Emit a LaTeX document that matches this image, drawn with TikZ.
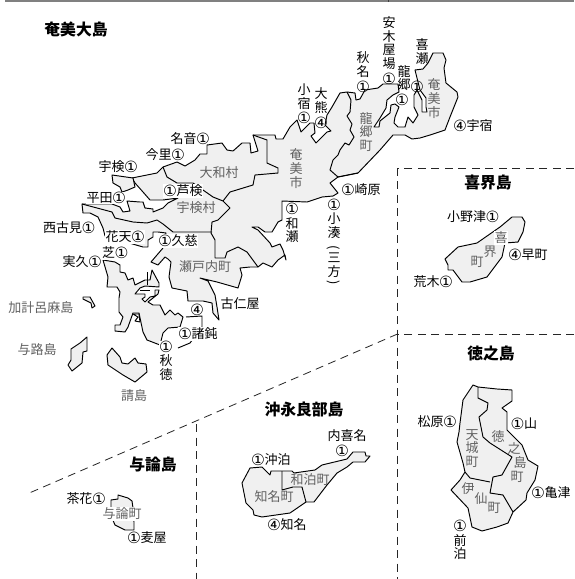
\documentclass[tikz,border=0pt]{standalone}
\usepackage{fontspec}
\newfontfamily\jp{Noto Sans CJK JP}
\newfontfamily\circfont{DejaVu Sans}
\newcommand{\circled}[1]{\makebox[13pt]{\rule[-1.5pt]{0pt}{11pt}\raisebox{-1.2pt}{\smash{\circfont\fontsize{15.5}{13.6}\selectfont #1}}}}
\newcommand{\one}{\circled{①}}
\newcommand{\four}{\circled{④}}
\definecolor{landgray}{gray}{0.94}
\tikzset{
  land/.style={draw=black,line width=0.95pt,fill=landgray,line join=round},
  bound/.style={draw=black,line width=0.95pt,line join=round},
  zone/.style={draw=black!85,line width=0.8pt,dash pattern=on 8pt off 5.5pt},
  lab/.style={text=black,inner sep=0pt,align=center,font=\jp\fontsize{13}{13.6}\selectfont},
  labw/.style={lab,fill=white,inner sep=0.6pt},
  town/.style={lab,text=black!62},
  townw/.style={town,fill=white,inner sep=0.6pt},
  title/.style={lab,font=\jp\bfseries\fontsize{15.8}{16}\selectfont},
}
\begin{document}
\begin{tikzpicture}[x=1pt,y=-1pt]
\useasboundingbox (0,0) rectangle (574,579);
\fill[white] (0,0) rectangle (574,579);
\fill[black!50] (5,0) rectangle (574,2.2);
\fill[black!75] (387.5,0) rectangle (388.8,2.2);
% zone dividers
\coordinate (zA) at (574,168.5);
\coordinate (zB) at (397.5,168.5);
\coordinate (zC) at (397.5,334);
\coordinate (zD) at (574,334);
\coordinate (zE) at (397.5,579);
\coordinate (zF) at (27,494);
\coordinate (zG) at (196,424);
\coordinate (zH) at (196,579);
\draw[zone] (zA) -- (zB) -- (zC);
\draw[zone] (zD) -- (zC);
\draw[zone] (zC) -- (zE);
\draw[zone] (zC) -- (zF);
\draw[zone] (zG) -- (zH);
% Amami main
\draw[land] (82,204) -- (112,204) -- (120,207) -- (123,212) -- (130,211) -- (127,201) -- (140,202) -- (143,202) -- (145,208) -- (153,209) -- (153,212) -- (163,208) -- (168,203) -- (178,198) -- (163,200) -- (150,200) -- (143,192) -- (135,183) -- (132,178) -- (157,173) -- (163,167) -- (177,162) -- (185,166) -- (195,160) -- (200,154) -- (207,154) -- (207,145) -- (222,143) -- (227,150) -- (233,151) -- (242,143) -- (250,143) -- (251,153) -- (258,151) -- (253,135) -- (275,135) -- (276,139) -- (283,139) -- (290,127) -- (297,120) -- (301,132) -- (310,123) -- (314,123) -- (315,133) -- (311,136) -- (316,143) -- (327,132) -- (331,131) -- (325,125) -- (327,115) -- (332,107) -- (340,93) -- (347,92) -- (355,93) -- (356,100) -- (360,99) -- (365,90) -- (378,88) -- (383,84) -- (398,84) -- (399,92) -- (393,95) -- (387,100) -- (386,108) -- (380,118) -- (374,127) -- (379,127) -- (380,121) -- (390,113) -- (391,105) -- (395,104) -- (399,107) -- (395,117) -- (394,123) -- (398,127) -- (405,127) -- (408,117) -- (413,123) -- (418,115) -- (414,107) -- (414,95) -- (417,90) -- (422,100) -- (422,112) -- (427,112) -- (426,107) -- (426,98) -- (420,90) -- (415,70) -- (423,69) -- (428,63) -- (433,53) -- (443,53) -- (446,60) -- (444,68) -- (446,83) -- (457,92) -- (458,97) -- (450,117) -- (445,130) -- (430,135) -- (420,138) -- (412,139) -- (405,135) -- (393,135) -- (380,150) -- (358,173) -- (338,177) -- (330,183) -- (338,193) -- (333,196) -- (322,197) -- (307,202) -- (282,201) -- (282,220) -- (278,222) -- (272,232) -- (265,232) -- (258,227) -- (252,227) -- (258,230) -- (270,243) -- (272,247) -- (280,244) -- (283,250) -- (286,260) -- (285,255) -- (278,260) -- (272,267) -- (263,263) -- (258,267) -- (250,267) -- (240,268) -- (242,275) -- (238,288) -- (217,282) -- (200,278) -- (208,281) -- (215,295) -- (217,307) -- (219,320) -- (213,313) -- (212,303) -- (203,301) -- (188,301) -- (187,291) -- (172,288) -- (169,277) -- (171,262) -- (168,259) -- (165,257) -- (158,265) -- (151,262) -- (163,248) -- (166,233) -- (158,232) -- (153,232) -- (153,237) -- (148,240) -- (148,247) -- (143,247) -- (105,236) -- (103,228) -- (98,217) -- (90,213) -- (83,213) -- cycle;
% north-west islet
\draw[land] (112,175) -- (113,183) -- (120,187) -- (122,192) -- (128,190) -- (135,187) -- (133,178) -- cycle;
% Kakeroma
\draw[land] (103,260) -- (108,277) -- (107,287) -- (117,287) -- (120,292) -- (119,298) -- (119,312) -- (123,317) -- (120,325) -- (115,325) -- (115,331) -- (125,332) -- (128,327) -- (133,313) -- (139,313) -- (143,332) -- (147,340) -- (160,345) -- (163,333) -- (168,328) -- (180,327) -- (183,317) -- (178,313) -- (175,315) -- (170,310) -- (165,315) -- (160,305) -- (153,305) -- (148,302) -- (158,294) -- (159,290) -- (155,290) -- (155,296) -- (150,297) -- (145,302) -- (142,299) -- (145,297) -- (145,294) -- (135,294) -- (140,288) -- (145,286) -- (159,287) -- (159,283) -- (152,270) -- (150,280) -- (145,280) -- (135,285) -- (133,278) -- (128,280) -- (125,273) -- (120,272) -- (120,265) -- (115,262) -- cycle;
\draw[land,fill=white] (133,314) -- (139,314) -- (140,322) -- (135,321) -- (138,317) -- cycle;
\draw[bound] (147,272) -- (147,285) (140,290) -- (150,290);
\draw[bound] (186,317) -- (202,316) -- (202,327) -- (190,343) -- (178,348);
\draw[land] (83,297) -- (90,297) -- (95,306) -- (92,308) -- (91,303) -- (83,299) -- cycle;
\draw[land] (87,337) -- (87,351) -- (83,352) -- (82,363) -- (72,371) -- (68,365) -- (71,360) -- (71,349) -- (80,343) -- cycle;
\draw[land] (112,348) -- (120,357) -- (122,363) -- (128,364) -- (135,358) -- (138,363) -- (146,364) -- (147,372) -- (135,382) -- (123,375) -- (108,365) -- (107,355) -- cycle;
% inner boundaries of Amami
\draw[bound] (82,204) -- (112,212) -- (115,218) -- (133,222) -- (147,223) -- (157,220) -- (163,224) -- (173,232) -- (212,232);
\draw[bound] (163,167) -- (167,177) -- (177,183) -- (193,183) -- (203,190) -- (213,197) -- (223,201) -- (230,208) -- (218,220) -- (212,222) -- (211,233) -- (215,240) -- (215,258) -- (225,258) -- (227,252) -- (238,247) -- (247,252) -- (258,267);
\draw[bound] (223,201) -- (230,192) -- (253,185) -- (255,175) -- (278,173) -- (278,168) -- (267,163) -- (267,140) -- (253,135);
\draw[bound] (347,92) -- (351,100) -- (350,112) -- (347,116) -- (352,124) -- (350,130) -- (354,137) -- (349,145) -- (345,143) -- (340,150) -- (338,155) -- (333,160) -- (330,170) -- (338,177) -- (358,173);
% Kikai
\draw[land] (445,259) -- (458,247) -- (477,243) -- (500,227) -- (512,217) -- (522,217) -- (525,222) -- (523,232) -- (518,242) -- (505,243) -- (502,257) -- (487,277) -- (470,282) -- (462,282) -- (453,270) -- (448,270) -- (448,265) -- cycle;
% Tokunoshima
\draw[land] (473,385) -- (478,387) -- (497,389) -- (512,390) -- (512,401) -- (502,408) -- (507,412) -- (507,430) -- (515,438) -- (522,445) -- (528,460) -- (538,466) -- (535,480) -- (527,493) -- (526,500) -- (513,512) -- (508,523) -- (497,527) -- (482,531) -- (472,527) -- (468,508) -- (451,490) -- (460,480) -- (465,472) -- (463,463) -- (457,442) -- (459,432) -- (460,423) -- (463,400) -- cycle;
\draw[bound] (478,387) -- (478,398) -- (488,403) -- (487,410) -- (479,417) -- (483,437) -- (490,443) -- (512,457) -- (502,475) -- (493,477) -- (490,493) -- (503,495) -- (513,512);
\draw[bound] (465,472) -- (470,478) -- (490,482);
% Okinoerabu
\draw[land] (250,468) -- (262,467) -- (270,475) -- (271,471) -- (292,471) -- (294,473) -- (315,470) -- (322,465) -- (347,459) -- (353,452) -- (365,452) -- (366,456) -- (370,456) -- (365,462) -- (353,462) -- (347,467) -- (337,473) -- (327,485) -- (314,502) -- (306,502) -- (290,513) -- (262,517) -- (254,515) -- (253,510) -- (246,503) -- (242,483) -- cycle;
\draw[bound] (282,471) -- (282,490) -- (293,487) -- (302,487) -- (306,502);
% Yoron
\draw[land] (118,495) -- (128,498) -- (132,501) -- (133,508) -- (134,522) -- (134,530) -- (125,530) -- (115,525) -- (112,518) -- (111,507) -- (111,500) -- (118,499) -- cycle;
% titles
\node[title] (t1) at (76,29) {奄美大島};
\node[title] (t2) at (488,183) {喜界島};
\node[title] (t3) at (491,353) {徳之島};
\node[title] (t4) at (304,409) {沖永良部島};
\node[title] (t5) at (153,464) {与論島};
% town names
\node[town] (m1) at (219,173) {大和村};
\node[town] (m2) at (196,208) {宇検村};
\node[town] (m3) at (205,267) {瀬戸内町};
\node[town] (m4) at (296,168.5) {奄\\美\\市};
\node[town] (m5) at (366,132) {龍\\郷\\町};
\node[town] (m6) at (434,98.5) {奄\\美\\市};
\node[townw] (m7a) at (501,238) {喜};
\node[town] (m7b) at (490,252) {界};
\node[town] (m7c) at (477,262) {町};
\node[town] (m8) at (472,448.5) {天\\城\\町};
\node[town] (m9a) at (498,437) {徳};
\node[town] (m9b) at (514,449) {之};
\node[town] (m9c) at (520,463) {島};
\node[town] (m9d) at (517,477) {町};
\node[town] (m10a) at (468,489) {伊};
\node[town] (m10b) at (481,499) {仙};
\node[town] (m10c) at (494,508) {町};
\node[town] (m11) at (274,497) {知名町};
\node[town] (m12) at (310,480) {和泊町};
\node[townw] (m13) at (122,514) {与論町};
% island names in gray
\node[town] (i1) at (41,308) {加計呂麻島};
\node[town] (i2) at (37,350) {与路島};
\node[town] (i3) at (134,396) {請島};
% ports
\node[lab] (p1) at (190,139) {名音\one};
\node[lab] (p2) at (165,155) {今里\one};
\node[lab] (p3) at (118,167) {宇検\one};
\node[labw] (p4) at (183,191) {\one 芦検};
\node[labw] (p5) at (106,198) {平田\one};
\node[lab] (p6) at (69,228) {西古見\one};
\node[labw] (p7) at (125,237) {花天\one};
\node[labw] (p8) at (178,241) {\one 久慈};
\node[labw] (p9) at (115,253) {芝\one};
\node[lab] (p10) at (82,262) {実久\one};
\node[lab] (p11) at (240,304) {古仁屋};
\node[lab] (p12) at (197,310) {\four};
\node[labw] (p13) at (198,334) {\one 諸鈍};
\node[lab,fill=white,inner sep=0.3pt] (p14) at (166,361) {\one\\[1pt]秋\\徳};
\node[lab] (p15) at (304,104) {小\\宿\\[1pt]\one};
\node[lab] (p16) at (321,108) {大\\熊\\[1pt]\four};
\node[lab] (p17) at (363,72) {秋\\名\\[1pt]\one};
\node[lab] (p18) at (389,50.5) {安\\木\\屋\\場\\[1pt]\one};
\node[lab] (p19) at (404,78) {龍\\郷};
\node[lab] (p20) at (417,87) {\one};
\node[lab] (p21) at (402,100) {\one};
\node[lab] (p22) at (422,51.5) {喜\\瀬};
\node[lab] (p23) at (473,126) {\four 宇宿};
\node[lab] (p24) at (361,190) {\one 崎原};
\node[lab] (p25) at (292,223.5) {\one\\[1pt]和\\瀬};
\node[lab] (p26) at (334,219) {\one\\[1pt]小\\湊};
\node[lab,rotate=-90] (p27a) at (334,248) {(};
\node[lab] (p27) at (334,265.5) {三\\方};
\node[lab,rotate=-90] (p27b) at (334,283) {)};
\node[lab] (k1) at (473,217) {小野津\one};
\node[lab] (k2) at (528,255) {\four 早町};
\node[lab] (k3) at (433,282) {荒木\one};
\node[lab] (d1) at (437,422) {松原\one};
\node[lab] (d2) at (524,424) {\one 山};
\node[lab] (d3) at (551,493) {\one 亀津};
\node[lab] (d4) at (460,540.5) {\one\\[1pt]前\\泊};
\node[lab] (o1) at (347,436) {内喜名};
\node[lab] (o2) at (342,451) {\one};
\node[lab] (o3) at (271,460) {\one 沖泊};
\node[lab] (o4) at (287,525) {\four 知名};
\node[lab] (y1) at (86,499) {茶花\one};
\node[lab] (y2) at (147,538) {\one 麦屋};
\end{tikzpicture}
\end{document}
